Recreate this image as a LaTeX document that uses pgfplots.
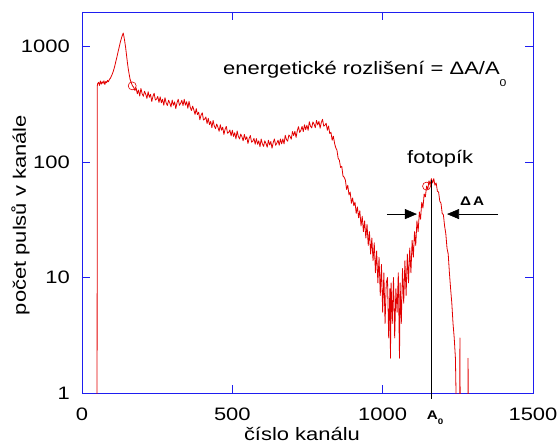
\documentclass[border=0pt]{standalone}
\usepackage{fontspec}
\setmainfont{Liberation Sans}[FakeStretch=1.22]
\usepackage{pgfplots}
\pgfplotsset{compat=1.18}
\usetikzlibrary{arrows.meta}
\definecolor{specred}{RGB}{226,0,0}
\definecolor{axblue}{RGB}{30,30,240}
\begin{document}
\fontsize{18}{21}\selectfont
\begin{tikzpicture}
\path[use as bounding box] (-82pt,-52pt) rectangle (476pt,393pt);
\begin{axis}[
  at={(0pt,0pt)}, anchor=south west,
  scale only axis, width=451pt, height=381pt,
  xmin=0, xmax=1500, ymin=1, ymax=2000, ymode=log,
  axis line style={axblue, line width=0.8pt},
  every tick/.style={axblue, line width=0.8pt},
  major tick length=8pt,
  tick align=inside,
  xtick={0,500,1000,1500}, xticklabels={0,500,1000,1500},
  ytick={1,10,100,1000}, yticklabels={1,10,100,1000},
  yminorticks=false, xminorticks=false,
  xticklabel style={anchor=base, yshift=-27pt, inner sep=0pt},
  yticklabel style={anchor=east, xshift=-12pt, inner sep=0pt},
]
\addplot[specred, line width=0.8pt, line join=round] coordinates {
(50,0.5) (51,460) (52,478) (55,492) (58,462) (61,505) (64,474) (67,498) (70,481) (73,508) (76,470) (79,500)
(82,488) (85,512) (88,497) (91,521) (94,530) (97,552) (100,574) (104,612) (108,664) (112,735) (116,812)
(120,905) (124,1000) (128,1110) (132,1205) (135,1270) (137,1315) (139,1245) (142,1120) (145,990) (148,850)
(151,730) (154,640) (157,575) (160,522) (164,486) (168,458) (172,445) (176,418)
(180,440) (184,391) (188,421) (192,374) (196,435) (200,392) (204,372) (208,412) (212,388) (216,357)
(220,407) (224,365) (228,387) (232,335) (236,372) (240,395) (244,345) (248,352) (252,371) (256,329)
(260,368) (264,327) (268,351) (272,311) (276,362) (280,325) (284,310) (288,344) (292,326) (296,301)
(300,345) (304,311) (308,333) (312,291) (316,327) (320,351) (324,311) (328,323) (332,344) (336,309)
(340,350) (344,312) (348,334) (352,293) (356,337) (360,299) (364,280) (368,306) (372,284) (376,259)
(380,291) (384,258) (388,271) (392,233) (396,256) (400,268) (404,232) (408,236) (412,246) (416,216)
(420,240) (424,211) (428,226) (432,199) (436,230) (440,206) (444,195) (448,214) (452,201) (456,185)
(460,211) (464,189) (468,201) (472,174) (476,193) (480,204) (484,178) (488,181) (492,190) (496,169)
(500,189) (504,167) (508,180) (512,159) (516,186) (520,167) (524,159) (528,175) (532,166) (536,153)
(540,174) (544,157) (548,166) (552,145) (556,161) (560,170) (564,149) (568,152) (572,161) (576,143)
(580,160) (584,143) (588,153) (592,136) (596,159) (600,144) (604,137) (608,153) (612,145) (616,135)
(620,155) (624,141) (628,151) (632,132) (636,148) (640,159) (644,140) (648,146) (652,155) (656,140)
(660,159) (664,144) (668,159) (672,144) (676,171) (680,157) (684,152) (688,172) (692,167) (696,158)
(700,184) (704,170) (708,185) (712,164) (716,187) (720,203) (724,181) (728,189) (732,204) (736,184)
(740,211) (744,191) (748,209) (752,189) (756,224) (760,205) (764,198) (768,223) (772,213) (776,199)
(780,230) (784,210) (788,226) (792,197) (796,221) (800,235) (804,205) (808,209) (812,217) (816,189)
(820,206) (824,177) (828,182) (832,155) (836,168) (840,146) (844,133) (848,127) (852,108) (856,104)
(860,90) (864,92) (868,76) (872,74) (876,70) (880,58) (884,63) (888,52) (892,55) (896,44) (900,49)
(904,42) (908,45) (912,36) (916,41) (920,33) (924,38) (928,28) (932,34) (936,25) (940,31) (944,22)
(948,29) (952,19) (956,25) (960,16) (964,22) (968,14) (972,20) (976,11) (980,17) (984,9) (988,15)
(992,7) (996,13) (1000,5) (1004,11) (1008,4) (1012,9) (1016,10) (1020,3) (1024,8) (1026,2) (1028,9)
(1032,4) (1036,10) (1040,3) (1044,8) (1048,5) (1052,11) (1056,2) (1058,9) (1062,4) (1066,12) (1070,6)
(1074,14) (1078,7) (1082,16) (1086,9) (1090,18) (1094,11) (1098,21) (1102,15) (1106,25) (1110,19)
(1114,31) (1118,25) (1122,37) (1126,32) (1130,45) (1134,40) (1138,53) (1142,50) (1146,62) (1150,58)
(1154,69) (1158,64) (1162,72) (1166,66) (1170,72) (1174,63) (1178,66) (1182,56) (1186,55) (1190,46)
(1194,44) (1198,36) (1202,35) (1206,28) (1210,24) (1214,18) (1218,16) (1222,11) (1226,8) (1230,6)
(1234,4) (1238,3) (1242,2) (1246,0.5) (1256,0.5) (1257,3) (1258,0.5) (1283,0.5) (1284,2) (1285,0.5)
(1320,0.5)
};
\addplot[specred, only marks, mark=o, mark size=4pt, line width=0.6pt] coordinates {(167,458) (1146,62)};
\coordinate (SW) at (rel axis cs:0,0);
\coordinate (A0top) at (axis cs:1163,70);
\coordinate (A0bot) at (axis cs:1163,1);
\coordinate (txt) at (axis cs:469,572);
\coordinate (foto) at (axis cs:1081,98);
\coordinate (dA) at (axis cs:1257,42.5);
\coordinate (L1) at (axis cs:1014,35.5);
\coordinate (L2) at (axis cs:1114,35.5);
\coordinate (R1) at (axis cs:1384,35.5);
\coordinate (R2) at (axis cs:1214,35.5);
\end{axis}
\draw[black, line width=0.6pt] (A0top) -- ([yshift=-6pt]A0bot);
\node[anchor=base west, inner sep=0pt, font=\bfseries\fontsize{12.5}{14}\selectfont] at ([xshift=-5pt,yshift=-27pt]A0bot) {A\raisebox{-5pt}{\fontsize{8}{9}\selectfont 0}};
\node[anchor=base west, inner sep=0pt] at (txt) {energetické rozlišení = ΔA/A\raisebox{-12pt}{\fontsize{10}{11}\selectfont 0}};
\node[anchor=base west, inner sep=0pt] at (foto) {fotopík};
\node[anchor=base west, inner sep=0pt, font=\bfseries\fontsize{12.5}{14}\selectfont] at (dA) {Δ\,A};
\draw[-{Triangle[length=12pt,width=10pt]}, line width=0.6pt] (L1) -- (L2);
\draw[-{Triangle[length=12pt,width=10pt]}, line width=0.6pt] (R1) -- (R2);
\node[rotate=90, anchor=base, inner sep=0pt] at ([xshift=-56pt,yshift=178pt]SW) {počet pulsů v kanále};
\node[anchor=base, inner sep=0pt] at ([xshift=220pt,yshift=-47pt]SW) {číslo kanálu};
\end{tikzpicture}
\end{document}
